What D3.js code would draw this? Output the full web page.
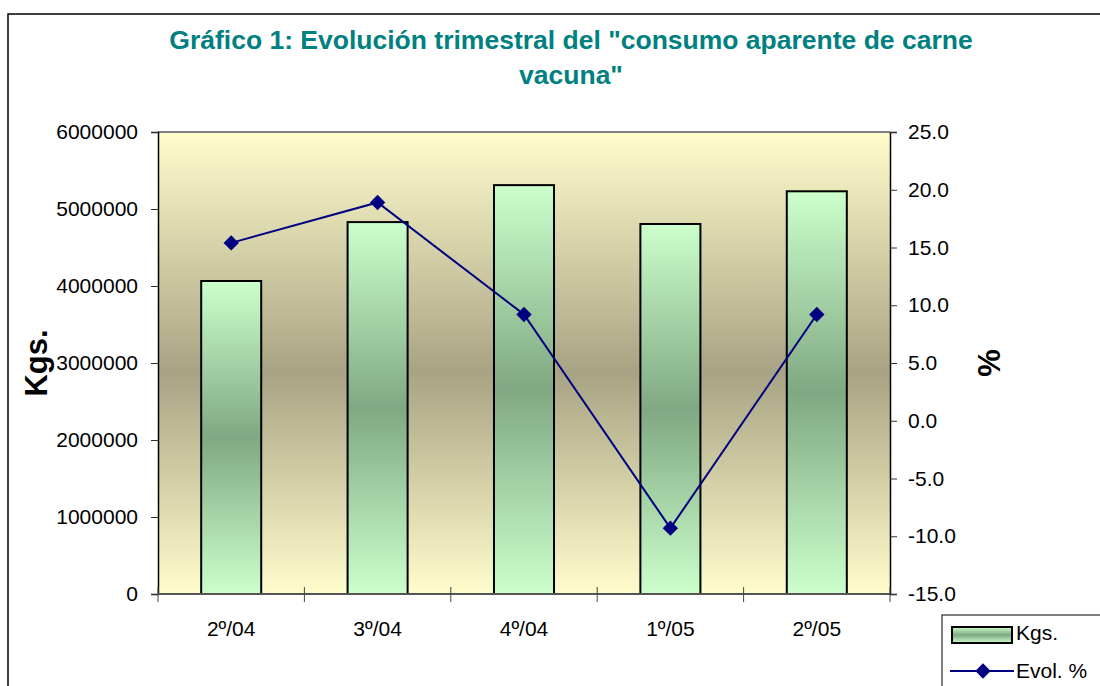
<!DOCTYPE html>
<html>
<head>
<meta charset="utf-8">
<script src="https://cdn.jsdelivr.net/npm/d3@7"></script>
<style>
  body { margin: 0; background: #fff; }
  text { font-family: Arial, "Liberation Sans", sans-serif; }
</style>
</head>
<body>
<div id="chart"></div>
<script>
// data
const quarters = ['2º/04', '3º/04', '4º/04', '1º/05', '2º/05'];
const kgs = [4065000, 4830000, 5310000, 4805000, 5230000];
const evol = [15.4, 18.9, 9.2, -9.3, 9.2];
const kgsTicks = [0, 1000000, 2000000, 3000000, 4000000, 5000000, 6000000];
const pctTicks = [-15, -10, -5, 0, 5, 10, 15, 20, 25];

const width = 1100, height = 686;
const margin = { left: 158, right: 210, top: 132, bottom: 92 };
const plotW = width - margin.left - margin.right;
const plotH = height - margin.top - margin.bottom;

const svg = d3.select('#chart')
    .append('svg')
    .attr('width', width)
    .attr('height', height);

// gradients
const defs = svg.append('defs');
const bg = defs.append('linearGradient')
    .attr('id', 'bgGrad')
    .attr('x1', 0).attr('y1', 0).attr('x2', 0).attr('y2', 1);
bg.append('stop').attr('offset', '0%').attr('stop-color', '#fffdcc');
bg.append('stop').attr('offset', '52%').attr('stop-color', '#a8a384');
bg.append('stop').attr('offset', '100%').attr('stop-color', '#fffdcc');

const barGrad = defs.append('linearGradient')
    .attr('id', 'barGrad')
    .attr('x1', 0).attr('y1', 0).attr('x2', 0).attr('y2', 1);
barGrad.append('stop').attr('offset', '0%').attr('stop-color', '#ccffcc');
barGrad.append('stop').attr('offset', '50%').attr('stop-color', '#80a882');
barGrad.append('stop').attr('offset', '100%').attr('stop-color', '#ccffcc');

// chart frame
svg.append('rect')
    .attr('x', 8).attr('y', 14)
    .attr('width', 1100).attr('height', 700)
    .attr('fill', 'none')
    .attr('stroke', '#000')
    .attr('stroke-width', 1.5);

// title
const title = svg.append('text')
    .attr('text-anchor', 'middle')
    .attr('fill', '#008080')
    .attr('font-weight', 'bold')
    .attr('font-size', 26.5);
title.append('tspan').attr('x', 571).attr('y', 49)
    .text('Gráfico 1: Evolución trimestral del "consumo aparente de carne');
title.append('tspan').attr('x', 571).attr('y', 84)
    .text('vacuna"');

const g = svg.append('g')
    .attr('transform', `translate(${margin.left},${margin.top})`);

// scales
const xScale = d3.scaleBand()
    .domain(quarters)
    .range([0, plotW])
    .paddingInner(0.59)
    .paddingOuter(0.295);

const yLeft = d3.scaleLinear().domain([0, 6000000]).range([plotH, 0]);
const yRight = d3.scaleLinear().domain([-15, 25]).range([plotH, 0]);

// plot background
g.append('rect')
    .attr('width', plotW)
    .attr('height', plotH)
    .attr('fill', 'url(#bgGrad)');

g.append('line')
    .attr('x1', 0).attr('x2', plotW)
    .attr('y1', 0).attr('y2', 0)
    .attr('stroke', '#808080')
    .attr('stroke-width', 2);

// bars
g.selectAll('.bar')
    .data(kgs)
    .join('rect')
    .attr('class', 'bar')
    .attr('x', (d, i) => xScale(quarters[i]))
    .attr('y', d => yLeft(d))
    .attr('width', xScale.bandwidth())
    .attr('height', d => plotH - yLeft(d))
    .attr('fill', 'url(#barGrad)')
    .attr('stroke', '#000')
    .attr('stroke-width', 2);

// axes
const leftAxis = d3.axisLeft(yLeft).tickValues(kgsTicks)
    .tickFormat(d3.format('d')).tickSizeOuter(0).tickSize(7).tickPadding(13);
const rightAxis = d3.axisRight(yRight).tickValues(pctTicks)
    .tickFormat(d => d.toFixed(1)).tickSizeOuter(0).tickSize(7).tickPadding(11);

const gl = g.append('g').call(leftAxis);
const gr = g.append('g').attr('transform', `translate(${plotW},0)`).call(rightAxis);
[gl, gr].forEach(a => {
    a.select('.domain').attr('stroke', '#000').attr('stroke-width', 1.5);
    a.selectAll('.tick line').attr('stroke', '#333');
    a.selectAll('.tick text')
        .attr('font-size', 21)
        .attr('fill', '#000')
        .attr('font-family', 'Arial, "Liberation Sans", sans-serif');
});

// bottom axis: ticks at category boundaries
const boundaries = d3.range(quarters.length + 1).map(i => i * plotW / quarters.length);
const gb = g.append('g').attr('transform', `translate(0,${plotH})`);
gb.append('line')
    .attr('x1', 0).attr('x2', plotW)
    .attr('stroke', '#555').attr('stroke-width', 2);
gb.selectAll('.xtick')
    .data(boundaries)
    .join('line')
    .attr('class', 'xtick')
    .attr('x1', d => d).attr('x2', d => d)
    .attr('y1', -7).attr('y2', 8)
    .attr('stroke', '#444');
gb.selectAll('.xlabel')
    .data(quarters)
    .join('text')
    .attr('class', 'xlabel')
    .attr('x', d => xScale(d) + xScale.bandwidth() / 2)
    .attr('y', 42)
    .attr('text-anchor', 'middle')
    .attr('font-size', 21)
    .text(d => d);

// line series
const line = d3.line()
    .x((d, i) => xScale(quarters[i]) + xScale.bandwidth() / 2)
    .y(d => yRight(d));

g.append('path')
    .datum(evol)
    .attr('d', line)
    .attr('fill', 'none')
    .attr('stroke', '#000080')
    .attr('stroke-width', 2);

const diamond = d3.symbol().type(d3.symbolDiamond2).size(150);
g.selectAll('.pt')
    .data(evol)
    .join('path')
    .attr('class', 'pt')
    .attr('d', diamond)
    .attr('transform', (d, i) => `translate(${xScale(quarters[i]) + xScale.bandwidth() / 2},${yRight(d)})`)
    .attr('fill', '#000080');

// axis titles
svg.append('text')
    .attr('transform', `translate(47,${margin.top + plotH / 2}) rotate(-90)`)
    .attr('text-anchor', 'middle')
    .attr('font-weight', 'bold')
    .attr('font-size', 31)
    .text('Kgs.');

svg.append('text')
    .attr('transform', `translate(1000,${margin.top + plotH / 2}) rotate(-90)`)
    .attr('text-anchor', 'middle')
    .attr('font-weight', 'bold')
    .attr('font-size', 31)
    .text('%');

// legend
const legend = svg.append('g').attr('transform', 'translate(942,615)');
legend.append('rect')
    .attr('width', 200).attr('height', 100)
    .attr('fill', '#fff')
    .attr('stroke', '#000')
    .attr('stroke-width', 1);
legend.append('rect')
    .attr('x', 10).attr('y', 12)
    .attr('width', 60).attr('height', 16)
    .attr('fill', 'url(#barGrad)')
    .attr('stroke', '#000')
    .attr('stroke-width', 2);
legend.append('text')
    .attr('x', 74).attr('y', 25)
    .attr('font-size', 21)
    .text('Kgs.');
legend.append('line')
    .attr('x1', 8).attr('x2', 72)
    .attr('y1', 56).attr('y2', 56)
    .attr('stroke', '#000080').attr('stroke-width', 2);
legend.append('path')
    .attr('d', diamond)
    .attr('transform', 'translate(41,56)')
    .attr('fill', '#000080');
legend.append('text')
    .attr('x', 74).attr('y', 63)
    .attr('font-size', 21)
    .text('Evol. %');
</script>
</body>
</html>
